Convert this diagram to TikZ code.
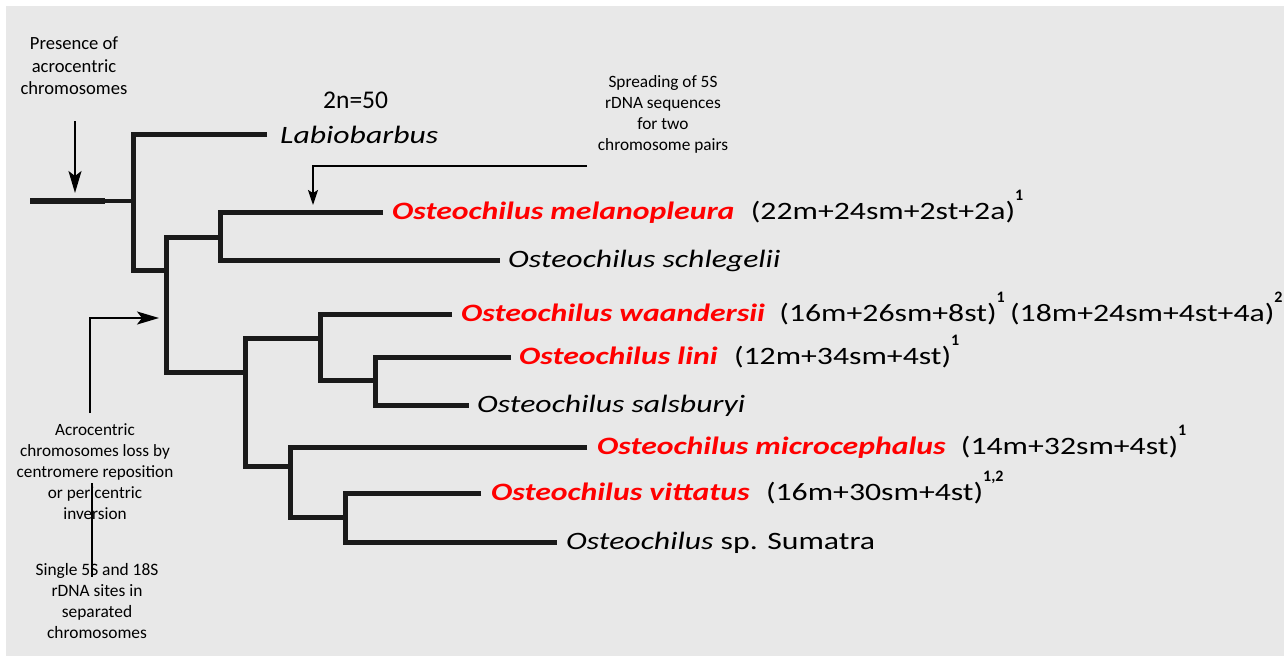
\documentclass[tikz,border=0pt]{standalone}
\usepackage{fontspec}
\setmainfont{Carlito}
\newfontfamily\spfont[FakeStretch=1.27]{Carlito}
\newfontfamily\kafont[FakeStretch=1.27]{Carlito}
\usetikzlibrary{arrows.meta}
\definecolor{bgc}{HTML}{E8E8E8}
\definecolor{treec}{HTML}{1A1A1A}
\definecolor{spred}{HTML}{FF0000}
\newcommand\supr[1]{\raisebox{19pt}{\rmfamily\fontsize{16}{16}\selectfont\bfseries #1}}
\begin{document}
\begin{tikzpicture}[x=1pt,y=-1pt,
  tree/.style={line width=5pt,color=treec,line join=miter},
  annline/.style={line width=1.8pt,color=black},
  bigarrow/.style={annline,-{Stealth[length=22pt,width=13pt,inset=5pt]}},
  smallarrow/.style={annline,-{Stealth[length=15pt,width=10pt,inset=3pt]}},
  ann/.style={align=center,inner sep=0pt,font=\fontsize{18}{21.5}\selectfont},
  leaf/.style={anchor=base west,inner sep=0pt,font=\spfont\fontsize{25}{30}\selectfont\itshape},
  redleaf/.style={leaf,text=spred,font=\spfont\fontsize{25}{30}\selectfont\itshape\bfseries},
  karyo/.style={anchor=base west,inner sep=0pt,font=\kafont\fontsize{25}{30}\selectfont}]
\useasboundingbox (0,0) rectangle (1284,657);
\fill[white] (0,0) rectangle (1284,657);
\fill[bgc] (6,6) rectangle (1284,656);

% tree coordinates
\coordinate (root0) at (30,201);
\coordinate (rootm) at (105,201);
\coordinate (n1) at (133,201);
\coordinate (n2) at (166,270);
\coordinate (n3) at (220,237.5);
\coordinate (n4) at (245.5,372);
\coordinate (n5) at (320.5,338.5);
\coordinate (n6) at (290,466);
\coordinate (n7) at (375.5,380);
\coordinate (n8) at (345,517);
\coordinate (tLab) at (267,134);
\coordinate (tMel) at (383,212);
\coordinate (tSch) at (500,260);
\coordinate (tWaa) at (452,314);
\coordinate (tLin) at (511,357);
\coordinate (tSal) at (469,405);
\coordinate (tMic) at (587,447);
\coordinate (tVit) at (481,493);
\coordinate (tSum) at (557,542);

% tree branches
\draw[line width=6.5pt,color=treec] (root0) -- (rootm);
\draw[line width=4.5pt,color=treec] (rootm) -- (n1);
\draw[tree] (tLab) -| (n1) |- (n2);
\draw[tree] (n3) -| (n2) |- (n4);
\draw[tree] (tMel) -| (n3) |- (tSch);
\draw[tree] (n5) -| (n4) |- (n6);
\draw[tree] (tWaa) -| (n5) |- (n7);
\draw[tree] (tLin) -| (n7) |- (tSal);
\draw[tree] (tMic) -| (n6) |- (n8);
\draw[tree] (tVit) -| (n8) |- (tSum);

% leaf labels
\node[anchor=base west,inner sep=0pt,font=\fontsize{25.5}{30}\selectfont] (dipl) at (323,108) {2n=50};
\node[leaf] (lab) at ([xshift=13pt,yshift=-9pt]tLab) {Labiobarbus};
\node[redleaf] (mel) at ([xshift=9pt,yshift=-7pt]tMel) {Osteochilus melanopleura};
\node[karyo] (melk) at ([xshift=16pt]mel.base east) {(22m+24sm+2st+2a)\supr{1}};
\node[leaf] (sch) at ([xshift=8pt,yshift=-7pt]tSch) {Osteochilus schlegelii};
\node[redleaf] (waa) at ([xshift=9pt,yshift=-7pt]tWaa) {Osteochilus waandersii};
\node[karyo] (waak1) at ([xshift=14pt]waa.base east) {(16m+26sm+8st)\supr{1}};
\node[karyo] (waak2) at ([xshift=5pt]waak1.base east) {(18m+24sm+4st+4a)\supr{2}};
\node[redleaf] (lin) at ([xshift=8pt,yshift=-7pt]tLin) {Osteochilus lini};
\node[karyo] (link) at ([xshift=16pt]lin.base east) {(12m+34sm+4st)\supr{1}};
\node[leaf] (sal) at ([xshift=8pt,yshift=-7pt]tSal) {Osteochilus salsburyi};
\node[redleaf] (mic) at ([xshift=10pt,yshift=-7pt]tMic) {Osteochilus microcephalus};
\node[karyo] (mick) at ([xshift=15pt]mic.base east) {(14m+32sm+4st)\supr{1}};
\node[redleaf] (vit) at ([xshift=10pt,yshift=-7pt]tVit) {Osteochilus vittatus};
\node[karyo] (vitk) at ([xshift=16pt]vit.base east) {(16m+30sm+4st)\supr{1,2}};
\node[leaf,font=\spfont\fontsize{25}{30}\selectfont] (sum) at ([xshift=9pt,yshift=-7pt]tSum) {\textit{Osteochilus} sp. Sumatra};

% annotations
\node[ann,font=\fontsize{18.6}{22.5}\selectfont] (pres) at (74,66) {Presence of\\acrocentric\\chromosomes};
\coordinate (presA) at (75,121);
\coordinate (presT) at (75,193);
\draw[bigarrow] (presA) -- (presT);

\node[ann,font=\fontsize{17.3}{21}\selectfont] (spread) at (663,114) {Spreading of 5S\\rDNA sequences\\for two\\chromosome pairs};
\coordinate (spR) at (587,166);
\coordinate (spC) at (313,166);
\coordinate (spT) at (313,205);
\draw[smallarrow] (spR) -- (spC) -- (spT);

\node[ann,font=\fontsize{17.2}{21}\selectfont] (loss) at (95,472) {Acrocentric\\chromosomes loss by\\centromere reposition\\or pericentric\\inversion};
\coordinate (lossB) at (90,413);
\coordinate (lossC) at (90,318);
\coordinate (lossT) at (159,318);
\draw[bigarrow] (lossB) -- (lossC) -- (lossT);

\node[ann,font=\fontsize{17.4}{21}\selectfont] (single) at (97,601) {Single 5S and 18S\\rDNA sites in\\separated\\chromosomes};
\coordinate (sgA) at (92,483);
\coordinate (sgB) at (92,577);
\draw[annline] (sgA) -- (sgB);
\end{tikzpicture}
\end{document}
